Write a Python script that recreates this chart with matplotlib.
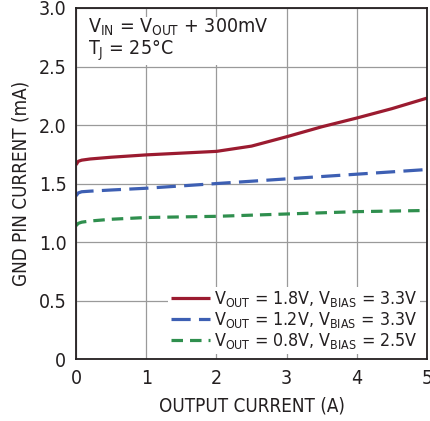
import matplotlib
matplotlib.use("Agg")
import matplotlib.pyplot as plt
from matplotlib import font_manager

# pick a condensed sans if one is installed
narrow = [f for f in font_manager.fontManager.ttflist
          if ("Narrow" in f.name or "Condensed" in f.fname or "Narrow" in f.fname)
          and "Bold" not in f.fname and "Oblique" not in f.fname and "Italic" not in f.fname]
if narrow:
    FONT = narrow[0].name
    plt.rcParams["font.stretch"] = narrow[0].stretch
else:
    FONT = "DejaVu Sans"
plt.rcParams["font.family"] = [FONT, "DejaVu Sans"]
plt.rcParams["mathtext.fontset"] = "custom"
plt.rcParams["mathtext.rm"] = FONT
plt.rcParams["mathtext.it"] = FONT

# data
x_18 = [0, 0.03, 0.08, 0.2, 0.5, 1.0, 1.5, 2.0, 2.5, 3.0, 3.5, 4.0, 4.5, 5.0]
y_18 = [1.66, 1.69, 1.70, 1.71, 1.725, 1.745, 1.76, 1.775, 1.82, 1.90, 1.985, 2.06, 2.14, 2.23]

x_12 = [0, 0.03, 0.08, 0.2, 0.5, 1.0, 2.0, 3.0, 4.0, 5.0]
y_12 = [1.395, 1.42, 1.43, 1.435, 1.445, 1.46, 1.50, 1.54, 1.58, 1.62]

x_08 = [0, 0.03, 0.08, 0.2, 0.5, 1.0, 2.0, 3.0, 4.0, 5.0]
y_08 = [1.14, 1.16, 1.17, 1.18, 1.195, 1.21, 1.22, 1.24, 1.26, 1.27]

labels = [r"V$_{\mathrm{OUT}}$ = 1.8V, V$_{\mathrm{BIAS}}$ = 3.3V",
          r"V$_{\mathrm{OUT}}$ = 1.2V, V$_{\mathrm{BIAS}}$ = 3.3V",
          r"V$_{\mathrm{OUT}}$ = 0.8V, V$_{\mathrm{BIAS}}$ = 2.5V"]

fig = plt.figure(figsize=(4.30, 4.21), dpi=100)
ax = fig.add_axes([0.177, 0.147, 0.816, 0.834])

ax.plot(x_18, y_18, color="#9b1b30", lw=2.3, solid_capstyle="butt", label=labels[0])
ax.plot(x_12, y_12, color="#3d5fb3", lw=2.3, dashes=(6, 2.6), label=labels[1])
ax.plot(x_08, y_08, color="#2f8f4e", lw=2.3, dashes=(3.6, 2.2), label=labels[2])

ax.set_xlim(0, 5)
ax.set_ylim(0, 3.0)
ax.set_xticks([0, 1, 2, 3, 4, 5])
ax.set_yticks([0, 0.5, 1.0, 1.5, 2.0, 2.5, 3.0])
ax.set_yticklabels(["0", "0.5", "1.0", "1.5", "2.0", "2.5", "3.0"])
ax.tick_params(length=0, labelsize=14, colors="#231f20", pad=7)
ax.grid(True, color="#9a9a9a", lw=0.9)
for s in ax.spines.values():
    s.set_color("#231f20")
    s.set_linewidth(1.3)

ax.set_xlabel("OUTPUT CURRENT (A)", fontsize=13.5, color="#231f20", labelpad=6)
ax.set_ylabel("GND PIN CURRENT (mA)", fontsize=13.5, color="#231f20", labelpad=6)

ax.text(0.035, 0.975,
        "V$_{\\mathrm{IN}}$ = V$_{\\mathrm{OUT}}$ + 300mV\nT$_{\\mathrm{J}}$ = 25°C",
        transform=ax.transAxes, ha="left", va="top", fontsize=14, color="#231f20",
        linespacing=1.0, bbox=dict(facecolor="white", edgecolor="none", pad=2))

leg = ax.legend(loc="lower right", bbox_to_anchor=(0.99, 0.005), fontsize=12.8,
                frameon=True, fancybox=False, framealpha=1, edgecolor="none",
                handlelength=2.2, handletextpad=0.2, labelspacing=0.05,
                borderpad=0.15, borderaxespad=0.2)
for t in leg.get_texts():
    t.set_color("#231f20")

fig.savefig("out.png", dpi=100)
